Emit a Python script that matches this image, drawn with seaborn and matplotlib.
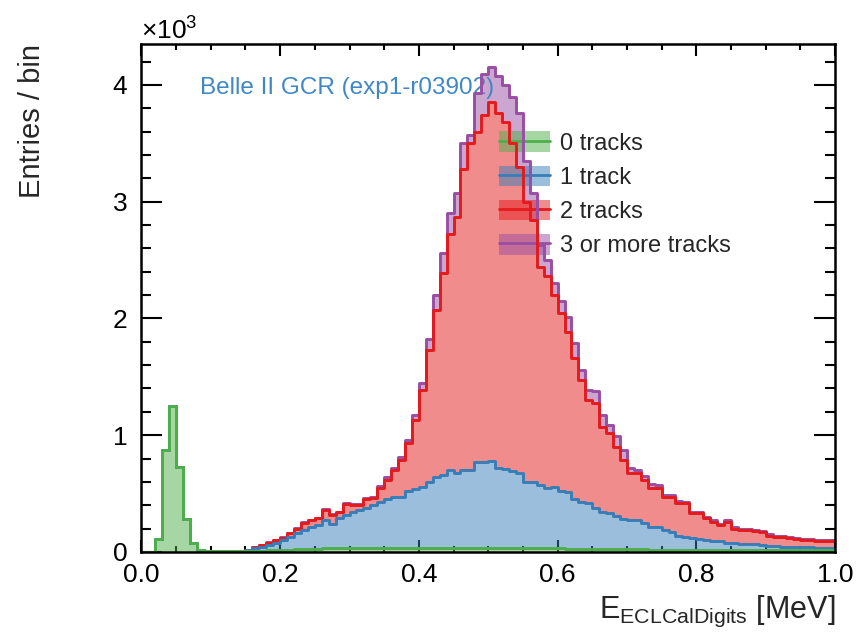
import numpy as np
import pandas as pd
import matplotlib
matplotlib.use("Agg")
import matplotlib.pyplot as plt
import matplotlib.colors as mcolors
import seaborn as sns
from matplotlib.patches import Patch
from matplotlib.lines import Line2D
from matplotlib.legend_handler import HandlerTuple
from matplotlib.ticker import MultipleLocator

# ---------------- data (entries per 0.01 MeV bin, 100 bins in [0, 1] MeV) -------------
labels = ["0 tracks", "1 track", "2 tracks", "3 or more tracks"]
colors = ["#4daf4a", "#377eb8", "#e41a1c", "#984ea3"]

# cumulative heights (tops of each layer)
green_top = [0, 0, 110, 870, 1250, 730, 280, 80, 20, 8,
             5, 5, 5, 5, 5, 8, 10, 12, 15, 18,
             20, 20, 22, 25, 25, 28, 30, 30, 30, 32,
             32, 32, 35, 35, 35, 35, 35, 35, 35, 35,
             35, 35, 35, 35, 35, 35, 35, 35, 35, 35,
             35, 35, 35, 32, 32, 32, 30, 30, 30, 30,
             30, 28, 28, 28, 25, 25, 25, 25, 25, 22,
             22, 22, 22, 20, 20, 20, 20, 20, 20, 20,
             20, 20, 20, 20, 20, 20, 20, 20, 20, 20,
             20, 20, 20, 20, 20, 20, 20, 20, 20, 20]
blue_top = [0, 0, 110, 870, 1250, 730, 280, 80, 20, 8,
            5, 5, 5, 6, 10, 20, 30, 40, 60, 80,
            100, 130, 160, 190, 210, 230, 270, 240, 290, 320,
            340, 360, 380, 400, 430, 450, 470, 470, 520, 540,
            560, 600, 640, 660, 700, 680, 700, 700, 770, 770,
            780, 720, 710, 690, 680, 600, 600, 570, 550, 560,
            520, 510, 450, 430, 420, 380, 340, 330, 310, 280,
            270, 270, 250, 210, 210, 190, 170, 140, 130, 120,
            110, 100, 90, 90, 80, 80, 70, 70, 70, 60,
            50, 50, 40, 40, 40, 40, 40, 30, 30, 30]
red_top = [0, 0, 110, 870, 1250, 730, 280, 80, 20, 8,
           5, 5, 5, 6, 10, 20, 40, 60, 80, 100,
           120, 160, 200, 250, 270, 290, 360, 320, 340, 410,
           400, 400, 450, 460, 550, 620, 700, 790, 930, 1130,
           1390, 1730, 2070, 2390, 2720, 2870, 3280, 3500, 3600, 3740,
           3850, 3760, 3680, 3500, 3300, 3000, 2840, 2440, 2360, 2200,
           2050, 1880, 1660, 1470, 1300, 1280, 1070, 1020, 900, 790,
           680, 680, 620, 550, 550, 470, 470, 420, 420, 330,
           330, 290, 260, 230, 260, 200, 190, 190, 180, 170,
           140, 130, 130, 120, 110, 100, 100, 90, 90, 90]
purple_top = [0, 0, 110, 870, 1250, 730, 280, 80, 20, 8,
              5, 5, 5, 6, 10, 20, 40, 62, 82, 102,
              125, 165, 205, 255, 275, 295, 365, 325, 345, 418,
              410, 410, 460, 472, 565, 640, 720, 815, 960, 1170,
              1450, 1820, 2200, 2560, 2900, 3070, 3500, 3570, 3930, 4090,
              4150, 4080, 4000, 3900, 3760, 3350, 3070, 2630, 2500, 2300,
              2150, 2010, 1790, 1560, 1390, 1380, 1170, 1090, 990, 870,
              720, 700, 650, 580, 570, 490, 490, 440, 430, 340,
              340, 300, 270, 240, 270, 210, 200, 200, 190, 180,
              150, 140, 140, 130, 120, 110, 110, 100, 100, 100]

x_ticklabels = ["0.0", "0.2", "0.4", "0.6", "0.8", "1.0"]

# ---------------- build per-category counts --------------------------------------------
nbins = len(green_top)
centers = (np.arange(nbins) + 0.5) / nbins
g = np.array(green_top, float)
b = np.array(blue_top, float)
r = np.array(red_top, float)
p = np.array(purple_top, float)
counts = {
    labels[0]: g,
    labels[1]: np.clip(b - g, 0, None),
    labels[2]: np.clip(r - b, 0, None),
    labels[3]: np.clip(p - r, 0, None),
}
df = pd.concat([pd.DataFrame({"E": centers, "w": counts[k], "tracks": k}) for k in labels],
               ignore_index=True)

# ---------------- style -----------------------------------------------------------------
sns.set_theme(style="ticks")
plt.rcParams["font.family"] = ["Liberation Sans", "DejaVu Sans"]
plt.rcParams["mathtext.default"] = "regular"
plt.rcParams["mathtext.fontset"] = "custom"
plt.rcParams["mathtext.rm"] = "Liberation Sans"

fig = plt.figure(figsize=(8.61, 6.39), dpi=100)
ax = fig.add_axes([0.1643, 0.1362, 0.9698 - 0.1643, 0.9311 - 0.1362])

palette = dict(zip(labels, colors))
stack_order = labels[::-1]  # first level ends up on top of the stack

common = dict(data=df, x="E", weights="w", hue="tracks", hue_order=stack_order,
              palette=palette, binwidth=1.0 / nbins, binrange=(0.0, 1.0),
              multiple="stack", element="step", legend=False, ax=ax)
sns.histplot(fill=True, alpha=0.5, linewidth=0, **common)
n_before = len(ax.lines)
sns.histplot(fill=False, linewidth=2.1, **common)

# lower layers' outlines drawn above upper layers' outlines
hex_colors = [mcolors.to_hex(c) for c in colors]
for ln in ax.lines[n_before:]:
    c = mcolors.to_hex(ln.get_color())
    if c in hex_colors:
        ln.set_zorder(10 - hex_colors.index(c))

ax.set_xlim(0, 1.0)
ax.set_ylim(0, 4350)

ax.xaxis.set_minor_locator(MultipleLocator(0.05))
ax.yaxis.set_major_locator(MultipleLocator(1000))
ax.yaxis.set_minor_locator(MultipleLocator(200))
ax.set_xticks(np.arange(0, 1.01, 0.2))
ax.set_xticklabels(x_ticklabels)
ax.ticklabel_format(axis="y", style="sci", scilimits=(3, 3), useMathText=True)
ax.yaxis.get_offset_text().set_fontsize(19)

ax.tick_params(which="both", direction="in", top=True, right=True, width=1.5,
               colors="black", labelsize=19)
ax.tick_params(axis="x", which="major", length=8.5, pad=8)
ax.tick_params(axis="x", which="minor", length=4.3)
ax.tick_params(axis="y", which="major", length=15, pad=10)
ax.tick_params(axis="y", which="minor", length=7.5)
for s in ax.spines.values():
    s.set_linewidth(1.8)
    s.set_color("black")
    s.set_zorder(20)

ax.set_xlabel(r"E$_{\mathrm{ECLCalDigits}}$ [MeV]", fontsize=22, loc="right")
ax.set_ylabel("Entries / bin", fontsize=21, loc="top")
ax.xaxis.set_label_coords(1.0, -0.083)
ax.yaxis.set_label_coords(-0.137, 1.0)

ax.text(0.084, 0.913, "Belle II GCR (exp1-r03902)", transform=ax.transAxes,
        fontsize=17.5, color="#3f88c5", ha="left", va="center")

handles = []
for c in colors:
    handles.append((Patch(facecolor=c, alpha=0.5, edgecolor="none"),
                    Line2D([], [], color=c, lw=2.0)))
ax.legend(handles, labels, handler_map={tuple: HandlerTuple(ndivide=1, pad=0)},
          loc="upper left", bbox_to_anchor=(0.5155, 0.828), frameon=False,
          fontsize=17, handlelength=2.15, handleheight=0.98, handletextpad=0.42,
          labelspacing=0.45, borderpad=0, borderaxespad=0)

fig.savefig("out.png", dpi=100)
